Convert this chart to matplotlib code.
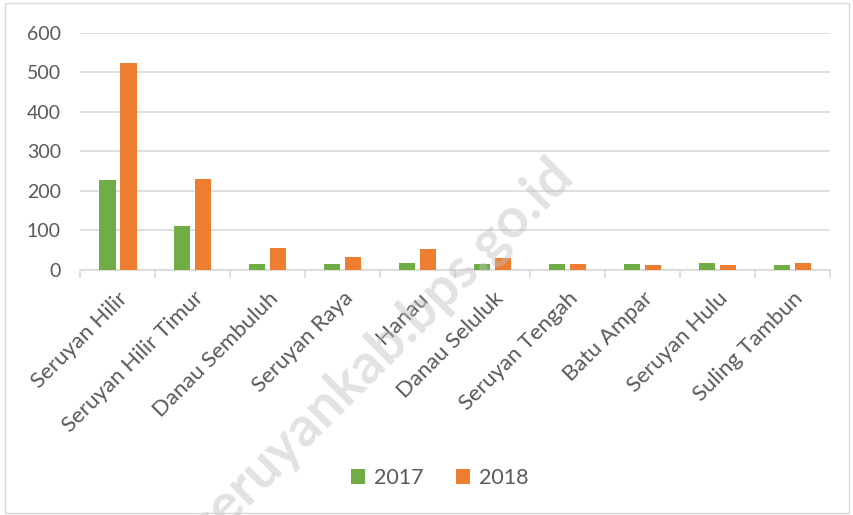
import numpy as np
import matplotlib.pyplot as plt

kecamatan = ['Seruyan Hilir', 'Seruyan Hilir Timur', 'Danau Sembuluh', 'Seruyan Raya',
             'Hanau', 'Danau Seluluk', 'Seruyan Tengah', 'Batu Ampar', 'Seruyan Hulu',
             'Suling Tambun']
th_2017 = [228, 112, 14, 15, 17, 16, 16, 14, 17, 13]
th_2018 = [525, 231, 55, 32, 53, 31, 16, 13, 13, 17]

plt.rcParams['font.family'] = ['Lato', 'DejaVu Sans']

fig = plt.figure(figsize=(8.54, 5.15), dpi=100)
ax = fig.add_axes([0.094, 0.476, 0.878, 0.46])

x = np.arange(len(kecamatan))
w = 0.22
ax.bar(x - 0.14, th_2017, w, color='#70ad47', label='2017', zorder=3)
ax.bar(x + 0.14, th_2018, w, color='#ed7d31', label='2018', zorder=3)

ax.set_xlim(-0.5, len(kecamatan) - 0.5)
ax.set_ylim(0, 600)
ax.set_yticks(range(0, 601, 100))
ax.yaxis.grid(True, color='#d9d9d9', linewidth=1.2, zorder=0)
ax.tick_params(axis='y', length=0, labelsize=14, labelcolor='#595959', pad=14)

ax.set_xticks(x)
ax.set_xticklabels(kecamatan, rotation=45, ha='right', rotation_mode='anchor',
                   fontsize=16, color='#595959')
ax.tick_params(axis='x', length=0, pad=13)
ax.set_xticks(np.arange(-0.5, len(kecamatan)), minor=True)
ax.tick_params(axis='x', which='minor', length=6, color='#d9d9d9', width=1.2)

for s in ['top', 'right', 'left']:
    ax.spines[s].set_visible(False)
ax.spines['bottom'].set_color('#d9d9d9')
ax.spines['bottom'].set_linewidth(1.2)

fig.legend(loc='center', bbox_to_anchor=(0.515, 0.072), ncol=2, frameon=False,
           fontsize=15.5, handlelength=0.65, handleheight=0.65, columnspacing=1.5,
           handletextpad=0.4, labelcolor='#595959')

# watermark
fig.text(382 / 854, 1 - 350 / 515, 'seruyankab.bps.go.id', fontsize=40, fontweight='bold',
         color='#c0c0c0', alpha=0.45, rotation=45, ha='center', va='center',
         rotation_mode='anchor', zorder=10)

# chart border
fig.add_artist(plt.Rectangle((0.006, 0.004), 0.988, 0.99, transform=fig.transFigure,
                             fill=False, edgecolor='#d9d9d9', linewidth=1))

fig.savefig('out.png', dpi=100)
